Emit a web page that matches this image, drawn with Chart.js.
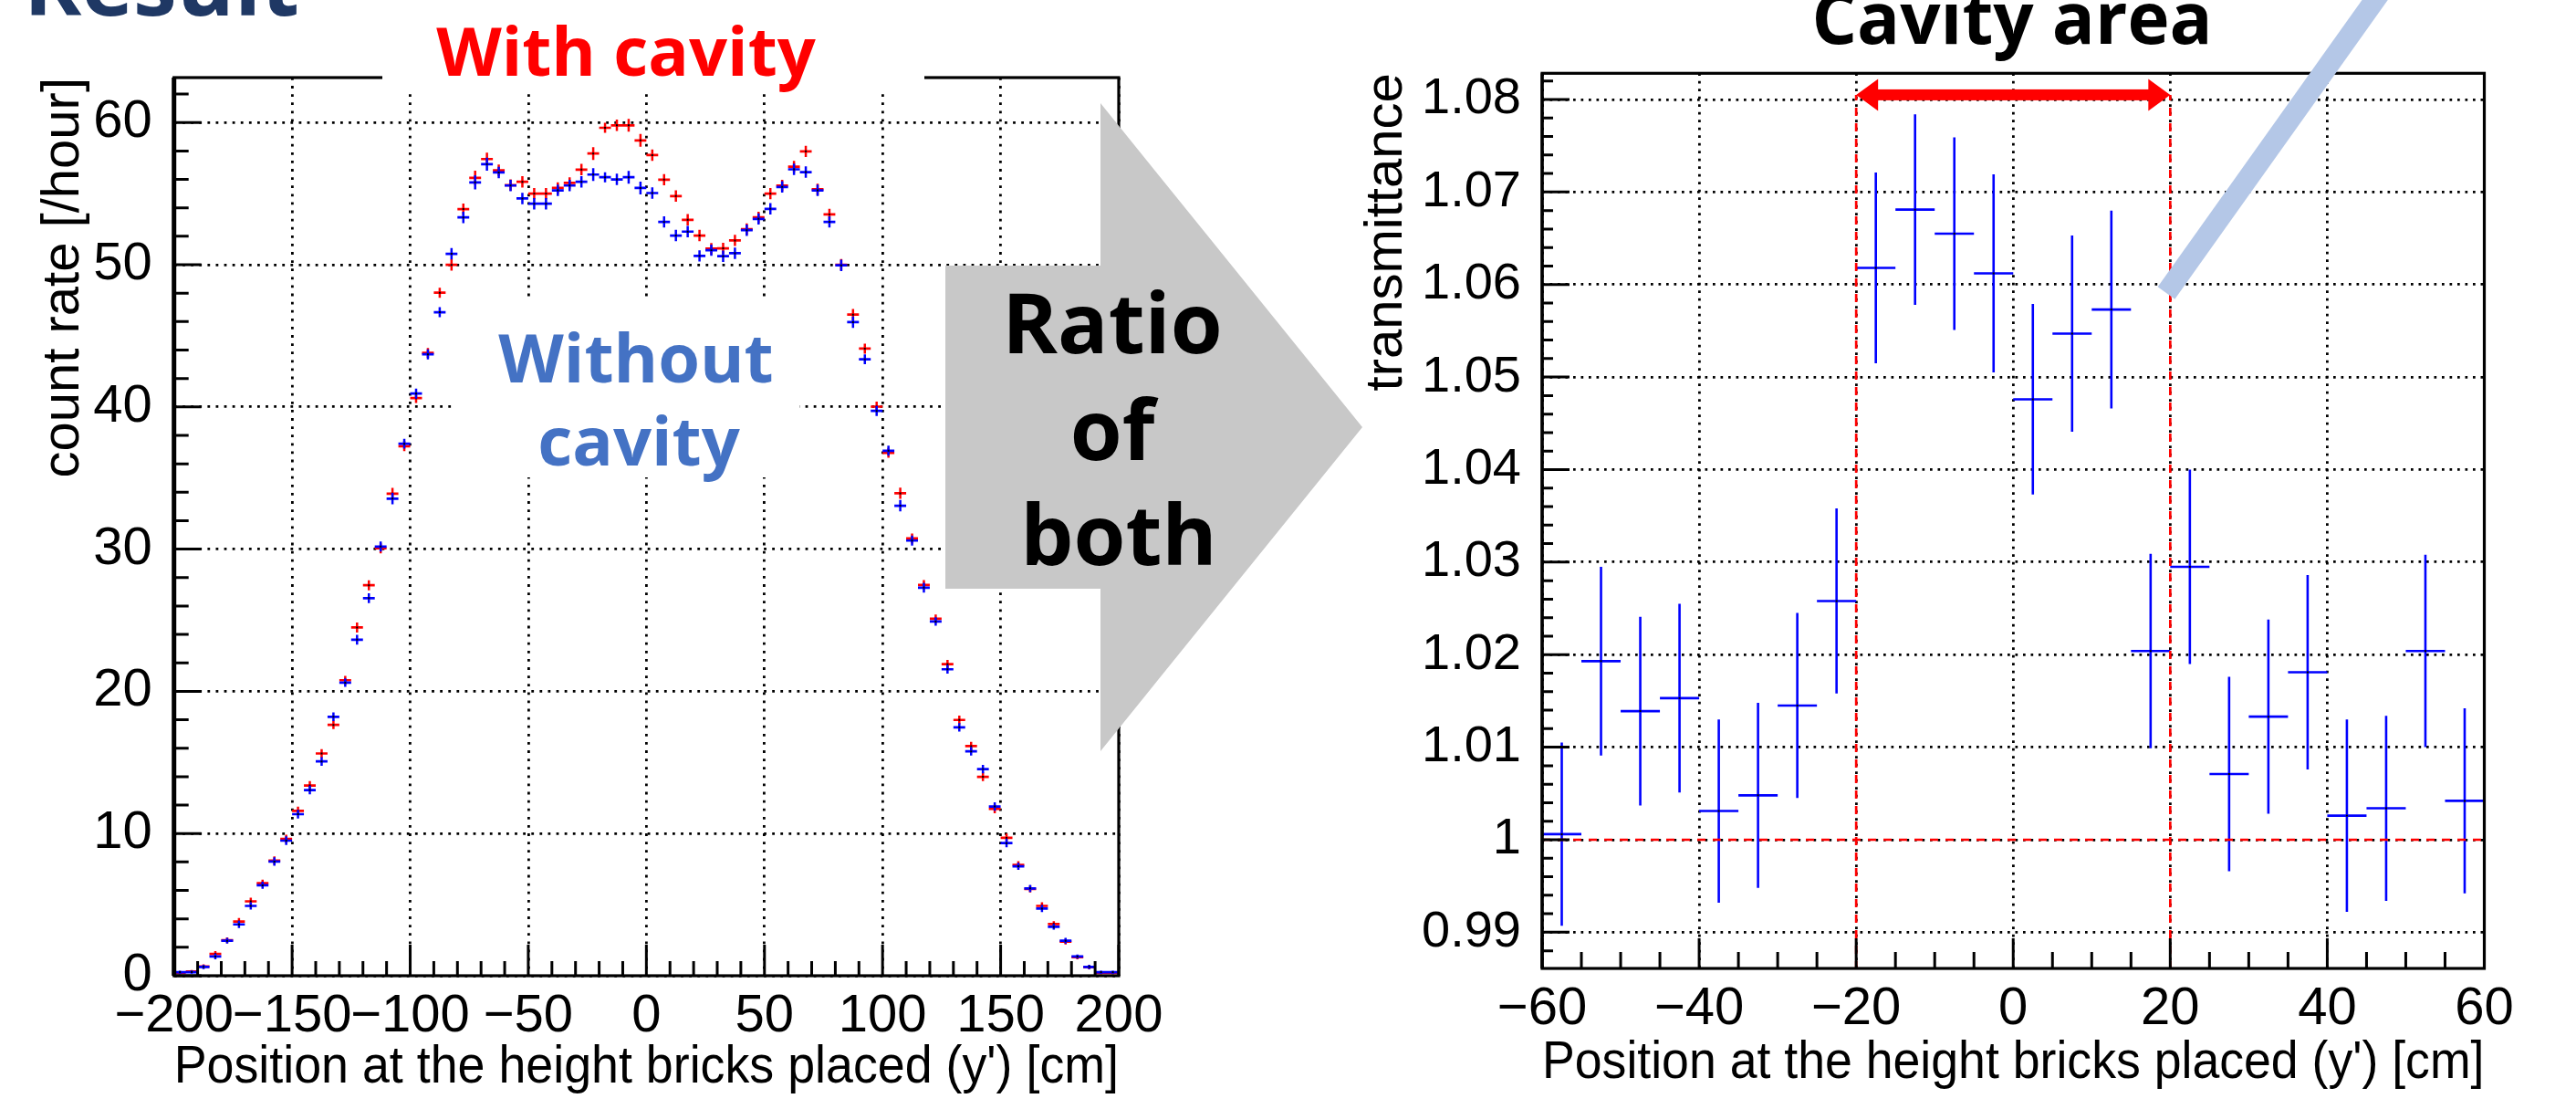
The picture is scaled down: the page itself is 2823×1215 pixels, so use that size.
<!DOCTYPE html>
<html>
<head>
<meta charset="utf-8">
<title>Result</title>
<script src="https://cdn.jsdelivr.net/npm/chart.js@4.4.1/dist/chart.umd.min.js"></script>
<style>
    html, body { margin: 0; padding: 0; background: #fff; }
    body { width: 2823px; height: 1215px; position: relative; overflow: hidden; }
    canvas { position: absolute; top: 0; }
    #count-chart { left: 0; }
    #ratio-chart { left: 1450px; }
    #slide { position: absolute; left: 0; top: 0; }
    #slide text { font-family: "Open Sans", "Noto Sans", sans-serif; font-weight: 700; }
</style>
</head>
<body>
<canvas id="count-chart" width="1300" height="1215"></canvas>
<canvas id="ratio-chart" width="1373" height="1215"></canvas>

<svg id="slide" width="2823" height="1215" viewBox="0 0 2823 1215">
    <text x="26" y="17" font-size="96" fill="#1f3864">Result</text>

    <rect x="419" y="0" width="594" height="97" fill="#fff"/>
    <text x="686" y="83" font-size="74" fill="#ff0000" text-anchor="middle">With cavity</text>

    <rect x="495" y="325" width="381" height="198" fill="#fff"/>
    <text x="697" y="419" font-size="74" fill="#4472c4" text-anchor="middle">Without</text>
    <text x="700" y="510" font-size="74" fill="#4472c4" text-anchor="middle">cavity</text>

    <polygon points="1036,291 1206,291 1206,113 1493,468 1206,823 1206,645 1036,645" fill="#c8c8c8"/>
    <text x="1219" y="387" font-size="92" fill="#000" text-anchor="middle">Ratio</text>
    <text x="1219" y="504" font-size="92" fill="#000" text-anchor="middle">of</text>
    <text x="1226" y="619" font-size="92" fill="#000" text-anchor="middle">both</text>

    <text x="2205" y="48" font-size="78" fill="#000" text-anchor="middle">Cavity area</text>
    <line x1="2374" y1="321" x2="2624" y2="-30" stroke="#b4c7e7" stroke-width="23"/>
</svg>

<script>
// left plot: count rate in 5 cm bins, -200 .. 200
var countLow = -200;
var countBinWidth = 5;
var withCavity = [
    0.2, 0.3, 0.65, 1.53, 2.5, 3.81, 5.23, 6.51, 8.1, 9.62,
    11.59, 13.38, 15.63, 17.64, 20.78, 24.49, 27.46, 30.06, 33.9, 37.24,
    40.62, 43.8, 48.03, 49.99, 53.91, 56.11, 57.43, 56.64, 55.6, 55.83,
    55.0, 55.0, 55.4, 55.75, 56.69, 57.82, 59.63, 59.8, 59.8, 58.74,
    57.71, 55.98, 54.83, 53.16, 52.05, 51.13, 51.15, 51.71, 52.5, 53.33,
    55.0, 55.57, 56.9, 57.97, 55.3, 53.54, 50.0, 46.49, 44.1, 40.02,
    36.77, 33.93, 30.75, 27.48, 25.1, 21.91, 17.99, 16.15, 13.99, 11.73,
    9.7, 7.8, 6.1, 4.91, 3.64, 2.4, 1.3, 0.6, 0.2, 0.2
];
var withoutCavity = [
    0.25, 0.25, 0.62, 1.35, 2.46, 3.61, 4.91, 6.36, 8.03, 9.5,
    11.36, 13.06, 15.07, 18.21, 20.61, 23.63, 26.55, 30.18, 33.55, 37.41,
    40.94, 43.7, 46.66, 50.77, 53.33, 55.79, 57.07, 56.49, 55.57, 54.66,
    54.29, 54.29, 55.23, 55.57, 55.83, 56.34, 56.15, 56.0, 56.15, 55.4,
    55.04, 53.01, 52.05, 52.33, 50.62, 51.02, 50.6, 50.81, 52.43, 53.22,
    53.93, 55.47, 56.71, 56.51, 55.23, 53.01, 49.96, 45.96, 43.35, 39.72,
    36.92, 33.05, 30.6, 27.29, 24.91, 21.55, 17.47, 15.78, 14.53, 11.9,
    9.33, 7.7, 6.14, 4.72, 3.44, 2.46, 1.35, 0.62, 0.25, 0.25
];
var countErr = [
    0.1, 0.1, 0.15, 0.2, 0.2, 0.25, 0.25, 0.25, 0.3, 0.3,
    0.3, 0.3, 0.3, 0.3, 0.3, 0.35, 0.35, 0.35, 0.4, 0.35,
    0.35, 0.35, 0.35, 0.4, 0.4, 0.5, 0.45, 0.4, 0.4, 0.4,
    0.4, 0.4, 0.4, 0.4, 0.4, 0.45, 0.35, 0.4, 0.45, 0.45,
    0.4, 0.4, 0.4, 0.4, 0.4, 0.4, 0.4, 0.4, 0.4, 0.4,
    0.4, 0.4, 0.4, 0.4, 0.4, 0.4, 0.4, 0.4, 0.35, 0.35,
    0.35, 0.4, 0.35, 0.35, 0.3, 0.3, 0.3, 0.3, 0.3, 0.3,
    0.3, 0.25, 0.25, 0.25, 0.2, 0.2, 0.15, 0.15, 0.1, 0.1
];
var countXTicks = [-200, -150, -100, -50, 0, 50, 100, 150, 200];
var countYTicks = [0, 10, 20, 30, 40, 50, 60];

// right plot: ratio of both, 5 cm bins, -60 .. 60
var ratioLow = -60;
var ratioBinWidth = 5;
var ratioValues = [
    1.0006, 1.0193, 1.0139, 1.0153, 1.0031, 1.0048, 1.0145, 1.0258,
    1.0618, 1.0681, 1.0655, 1.0612, 1.0476, 1.0547, 1.0573, 1.0204,
    1.0295, 1.0071, 1.0133, 1.0181, 1.0026, 1.0034, 1.0204, 1.0042
];
var ratioErr = [
    0.0099, 0.0102, 0.0102, 0.0102, 0.0099, 0.0100, 0.0100, 0.0100,
    0.0103, 0.0103, 0.0104, 0.0107, 0.0103, 0.0106, 0.0107, 0.0105,
    0.0105, 0.0105, 0.0105, 0.0105, 0.0104, 0.0100, 0.0104, 0.0100
];
var ratioXTicks = [-60, -40, -20, 0, 20, 40, 60];
var ratioYTicks = [0.99, 1.00, 1.01, 1.02, 1.03, 1.04, 1.05, 1.06, 1.07, 1.08];
var cavityEdges = [-20, 20];
var arrowLevel = 1.0805;
var unityLevel = 1;

var fontFamily = "'Liberation Sans', Arial, sans-serif";
var tickFont = { family: fontFamily, size: 58 };
var ratioTickFont = { family: fontFamily, size: 56 };
var titleFont = { family: fontFamily, size: 58 };

function binCenters(low, width, n) {
    let c = [];
    for (let i = 0; i < n; i++) {
        c.push(low + width * (i + 0.5));
    }
    return c;
}

function minusSign(v) {
    return String(v).replace('-', '\u2212');
}

//error crosses as broken line datasets
function errorCross(centers, values, errs, half) {
    let vert = [], horiz = [], marks = [];
    for (let i = 0; i < centers.length; i++) {
        vert.push({x: centers[i], y: values[i] - errs[i]}, {x: centers[i], y: values[i] + errs[i]}, {x: centers[i], y: null});
        horiz.push({x: centers[i] - half, y: values[i]}, {x: centers[i] + half, y: values[i]}, {x: centers[i], y: null});
        marks.push({x: centers[i], y: values[i]});
    }
    return {vert: vert, horiz: horiz, marks: marks};
}

function segSet(data, color, width, order) {
    return {
        data: data, borderColor: color, borderWidth: width, pointRadius: 0,
        spanGaps: false, fill: false, tension: 0, order: order
    };
}

function markSet(data, order) {
    return {
        data: data, showLine: false, pointStyle: 'rect', pointRadius: 1.4,
        pointBackgroundColor: '#000', pointBorderWidth: 0, order: order
    };
}

function fixedTicks(list) {
    return function(axis) {
        axis.ticks = list.map(v => ({value: v}));
    };
}

//frame and inward ticks like the original plots
var axisFrame = {
    id: 'axisFrame',
    afterDraw(chart, args, opts) {
        const ctx = chart.ctx;
        const a = chart.chartArea;
        const xs = chart.scales.x, ys = chart.scales.y;
        ctx.save();
        ctx.strokeStyle = '#000';
        ctx.lineWidth = 3;
        ctx.beginPath();
        let start = Math.ceil(xs.min / opts.xMinor - 1e-6);
        let stop = Math.floor(xs.max / opts.xMinor + 1e-6);
        for (let k = start; k <= stop; k++) {
            let v = k * opts.xMinor;
            let major = Math.abs(v / opts.xMajor - Math.round(v / opts.xMajor)) < 1e-6;
            let px = xs.getPixelForValue(v);
            ctx.moveTo(px, a.bottom);
            ctx.lineTo(px, a.bottom - (major ? opts.xMajorLen : opts.xMinorLen));
        }
        start = Math.ceil(ys.min / opts.yMinor - 1e-6);
        stop = Math.floor(ys.max / opts.yMinor + 1e-6);
        for (let k = start; k <= stop; k++) {
            let v = k * opts.yMinor;
            let major = Math.abs(v / opts.yMajor - Math.round(v / opts.yMajor)) < 1e-6;
            let py = ys.getPixelForValue(v);
            ctx.moveTo(a.left, py);
            ctx.lineTo(a.left + (major ? opts.yMajorLen : opts.yMinorLen), py);
        }
        ctx.stroke();

        ctx.lineWidth = opts.frame;
        ctx.strokeRect(a.left, a.top, a.right - a.left, a.bottom - a.top);
        ctx.lineWidth = opts.leftFrame;
        ctx.beginPath();
        ctx.moveTo(a.left, a.top);
        ctx.lineTo(a.left, a.bottom);
        ctx.stroke();

        if (opts.arrow) {
            //red double arrow over the cavity area
            let x1 = xs.getPixelForValue(opts.arrow[0]);
            let x2 = xs.getPixelForValue(opts.arrow[1]);
            let y = ys.getPixelForValue(opts.arrow[2]);
            ctx.fillStyle = '#ff0000';
            ctx.fillRect(x1 + 20, y - 6, x2 - x1 - 40, 12);
            ctx.beginPath();
            ctx.moveTo(x1, y);
            ctx.lineTo(x1 + 24, y - 17.5);
            ctx.lineTo(x1 + 24, y + 17.5);
            ctx.closePath();
            ctx.moveTo(x2, y);
            ctx.lineTo(x2 - 24, y - 17.5);
            ctx.lineTo(x2 - 24, y + 17.5);
            ctx.closePath();
            ctx.fill();
        }
        ctx.restore();
    }
};

function gridOpts(dash) {
    return {
        grid: { color: '#000', lineWidth: 2.8, drawTicks: false },
        border: { display: false, dash: dash }
    };
}

Chart.defaults.color = '#000';

//populate left chart
var countX = binCenters(countLow, countBinWidth, withCavity.length);
var redCross = errorCross(countX, withCavity, countErr, countBinWidth / 2);
var blueCross = errorCross(countX, withoutCavity, countErr, countBinWidth / 2);

var countChart = new Chart(document.getElementById('count-chart'), {
    type: 'line',
    data: {
        datasets: [
            markSet(blueCross.marks, 1),
            segSet(blueCross.vert, '#0000ff', 2.5, 2),
            segSet(blueCross.horiz, '#0000ff', 2.7, 2),
            markSet(redCross.marks, 3),
            segSet(redCross.vert, '#ff0000', 2.5, 4),
            segSet(redCross.horiz, '#ff0000', 2.7, 4)
        ]
    },
    options: {
        responsive: false,
        animation: false,
        devicePixelRatio: 1,
        layout: { padding: { left: 0, top: 85, right: 74, bottom: 0 } },
        plugins: {
            legend: { display: false },
            tooltip: { enabled: false },
            axisFrame: {
                xMinor: 10, xMajor: 50, xMajorLen: 34, xMinorLen: 16,
                yMinor: 2, yMajor: 10, yMajorLen: 30, yMinorLen: 16,
                frame: 3.2, leftFrame: 5
            }
        },
        scales: {
            x: Object.assign({
                type: 'linear', min: -200, max: 200,
                afterFit: s => { s.height = 146; },
                afterBuildTicks: fixedTicks(countXTicks),
                ticks: { font: tickFont, padding: 10, autoSkip: false, maxRotation: 0, callback: v => minusSign(v) },
                title: { display: true, text: "Position at the height bricks placed (y') [cm]", font: titleFont, align: 'end', padding: { top: 0, bottom: 10 } }
            }, gridOpts([2.8, 6.3])),
            y: Object.assign({
                type: 'linear', min: 0, max: 63.16,
                afterFit: s => { s.width = 190.7; },
                afterBuildTicks: fixedTicks(countYTicks),
                ticks: { font: tickFont, padding: 24, autoSkip: false },
                title: { display: true, text: 'count rate [/hour]', font: titleFont, align: 'end', padding: { top: 35.6, bottom: 0 } }
            }, gridOpts([2.8, 6.3]))
        }
    },
    plugins: [axisFrame]
});

//populate right chart
var ratioX = binCenters(ratioLow, ratioBinWidth, ratioValues.length);
var ratioCross = errorCross(ratioX, ratioValues, ratioErr, ratioBinWidth / 2);
var dashRed = [9, 8];

var ratioChart = new Chart(document.getElementById('ratio-chart'), {
    type: 'line',
    data: {
        datasets: [
            Object.assign(segSet([{x: cavityEdges[0], y: 0.986}, {x: cavityEdges[0], y: arrowLevel}], '#ff0000', 2.7, 0), { borderDash: dashRed }),
            Object.assign(segSet([{x: cavityEdges[1], y: 0.986}, {x: cavityEdges[1], y: arrowLevel}], '#ff0000', 2.7, 0), { borderDash: dashRed }),
            Object.assign(segSet([{x: ratioLow, y: unityLevel}, {x: -ratioLow, y: unityLevel}], '#ff0000', 2.7, 0), { borderDash: dashRed }),
            markSet(ratioCross.marks, 1),
            segSet(ratioCross.vert, '#0000ff', 2.6, 2),
            segSet(ratioCross.horiz, '#0000ff', 2.6, 2)
        ]
    },
    options: {
        responsive: false,
        animation: false,
        devicePixelRatio: 1,
        layout: { padding: { left: 0, top: 80.3, right: 100.5, bottom: 0 } },
        plugins: {
            legend: { display: false },
            tooltip: { enabled: false },
            axisFrame: {
                xMinor: 5, xMajor: 20, xMajorLen: 33, xMinorLen: 18,
                yMinor: 0.002, yMajor: 0.01, yMajorLen: 30, yMinorLen: 12,
                frame: 3.2, leftFrame: 3.2,
                arrow: [cavityEdges[0], cavityEdges[1], arrowLevel]
            }
        },
        scales: {
            x: Object.assign({
                type: 'linear', min: -60, max: 60,
                afterFit: s => { s.height = 154; },
                afterBuildTicks: fixedTicks(ratioXTicks),
                ticks: { font: tickFont, padding: 10, autoSkip: false, maxRotation: 0, callback: v => minusSign(v) },
                title: { display: true, text: "Position at the height bricks placed (y') [cm]", font: titleFont, align: 'end', padding: { top: 0, bottom: 15 } }
            }, gridOpts([2.7, 5.8])),
            y: Object.assign({
                type: 'linear', min: 0.98609, max: 1.08283,
                afterFit: s => { s.width = 240; },
                afterBuildTicks: fixedTicks(ratioYTicks),
                ticks: { font: ratioTickFont, padding: 23, autoSkip: false, callback: v => String(+v.toFixed(2)) },
                title: { display: true, text: 'transmittance', font: titleFont, align: 'end', padding: { top: 35.6, bottom: 0 } }
            }, gridOpts([2.7, 5.8]))
        }
    },
    plugins: [axisFrame]
});
</script>
</body>
</html>
